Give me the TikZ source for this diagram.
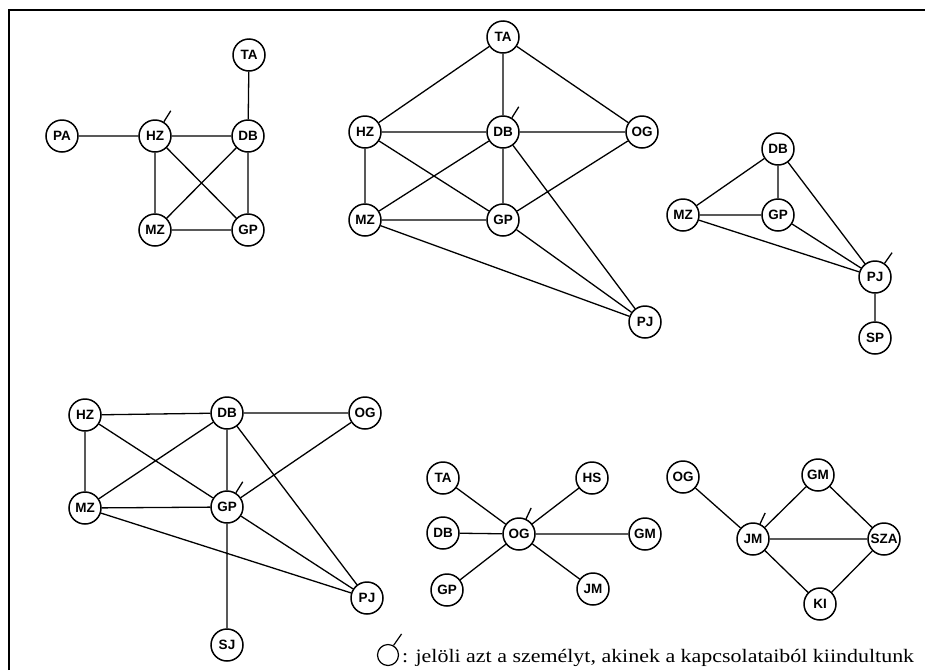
\documentclass[tikz,border=0pt]{standalone}
\usepackage{graphicx}
\usepackage{fontspec}
\setmainfont{Liberation Serif}
\newfontfamily\lblfont{Liberation Sans}
\begin{document}
\begin{tikzpicture}[x=1pt,y=-1pt,
  pn/.style={circle,draw,line width=1.5pt,minimum size=32pt,inner sep=0pt,font=\lblfont\bfseries\fontsize{13.5}{14}\selectfont},
  ed/.style={line width=1.3pt},
  mk/.style={line width=1.3pt}]
\useasboundingbox (0,0) rectangle (925,670);
\fill[white] (0,0) rectangle (925,670);
\draw[line width=1.8pt] (9,670) -- (9,10) -- (925,10);
% graph 1
\node[pn] (a-ta) at (249,55) {TA};
\node[pn] (a-pa) at (62,136) {PA};
\node[pn] (a-hz) at (155,136) {HZ};
\node[pn] (a-db) at (248,136) {DB};
\node[pn] (a-mz) at (155,230) {MZ};
\node[pn] (a-gp) at (248,230) {GP};
\draw[ed] (a-pa)--(a-hz) (a-hz)--(a-db) (a-ta)--(a-db) (a-hz)--(a-mz) (a-hz)--(a-gp)
  (a-db)--(a-mz) (a-db)--(a-gp) (a-mz)--(a-gp);
\draw[mk] (a-hz.58) -- ++(58:13pt);
% graph 2
\node[pn] (b-ta) at (503,37) {TA};
\node[pn] (b-hz) at (365,132) {HZ};
\node[pn] (b-db) at (503,132) {DB};
\node[pn] (b-og) at (642,132) {OG};
\node[pn] (b-mz) at (365,220) {MZ};
\node[pn] (b-gp) at (503,220) {GP};
\node[pn] (b-pj) at (645,322) {PJ};
\draw[ed] (b-ta)--(b-hz) (b-ta)--(b-db) (b-ta)--(b-og) (b-hz)--(b-db) (b-db)--(b-og)
  (b-hz)--(b-mz) (b-hz)--(b-gp) (b-db)--(b-mz) (b-db)--(b-gp) (b-db)--(b-pj)
  (b-og)--(b-gp) (b-mz)--(b-gp) (b-mz)--(b-pj) (b-gp)--(b-pj);
\draw[mk] (b-db.58) -- ++(58:13pt);
% graph 3
\node[pn] (c-db) at (778,149) {DB};
\node[pn] (c-mz) at (683,215) {MZ};
\node[pn] (c-gp) at (778,215) {GP};
\node[pn] (c-pj) at (875,277) {PJ};
\node[pn] (c-sp) at (875,338) {SP};
\draw[ed] (c-db)--(c-mz) (c-db)--(c-gp) (c-db)--(c-pj) (c-mz)--(c-gp) (c-mz)--(c-pj)
  (c-gp)--(c-pj) (c-pj)--(c-sp);
\draw[mk] (c-pj.55) -- ++(55:13pt);
% graph 4
\node[pn] (d-hz) at (85,415) {HZ};
\node[pn] (d-db) at (227,413) {DB};
\node[pn] (d-og) at (365,413) {OG};
\node[pn] (d-mz) at (85,508) {MZ};
\node[pn] (d-gp) at (227,507) {GP};
\node[pn] (d-pj) at (367,598) {PJ};
\node[pn] (d-sj) at (227,645) {SJ};
\draw[ed] (d-hz)--(d-db) (d-db)--(d-og) (d-hz)--(d-mz) (d-hz)--(d-gp) (d-db)--(d-mz)
  (d-db)--(d-gp) (d-db)--(d-pj) (d-og)--(d-gp) (d-mz)--(d-gp) (d-mz)--(d-pj)
  (d-gp)--(d-pj) (d-gp)--(d-sj);
\draw[mk] (d-gp.58) -- ++(58:13pt);
% graph 5
\node[pn] (e-og) at (519,534) {OG};
\node[pn] (e-ta) at (443,478) {TA};
\node[pn] (e-db) at (443,533) {DB};
\node[pn] (e-gp) at (447,590) {GP};
\node[pn] (e-hs) at (592,478) {HS};
\node[pn] (e-gm) at (645,534) {GM};
\node[pn] (e-jm) at (593,589) {JM};
\draw[ed] (e-og)--(e-ta) (e-og)--(e-db) (e-og)--(e-gp) (e-og)--(e-hs) (e-og)--(e-gm) (e-og)--(e-jm);
\draw[mk] (e-og.65) -- ++(65:12pt);
% graph 6
\node[pn] (f-og) at (683,477) {OG};
\node[pn] (f-gm) at (818,475) {GM};
\node[pn] (f-jm) at (753,539) {JM};
\node[pn] (f-sza) at (884,539) {SZA};
\node[pn] (f-ki) at (820,604) {KI};
\draw[ed] (f-og)--(f-jm) (f-jm)--(f-gm) (f-gm)--(f-sza) (f-jm)--(f-sza) (f-jm)--(f-ki) (f-ki)--(f-sza);
\draw[mk] (f-jm.65) -- ++(65:12pt);
% legend
\node[circle,draw,line width=1.2pt,minimum size=21pt,inner sep=0pt] (leg) at (388,655) {};
\draw[line width=1.2pt] (leg.60) -- ++(55:14pt);
\node[anchor=base west,inner sep=0pt,font=\fontsize{19}{22}\selectfont] (legtxt) at (402,662) {\scalebox{1.155}[1]{: jelöli azt a személyt, akinek a kapcsolataiból kiindultunk}};
\end{tikzpicture}
\end{document}
